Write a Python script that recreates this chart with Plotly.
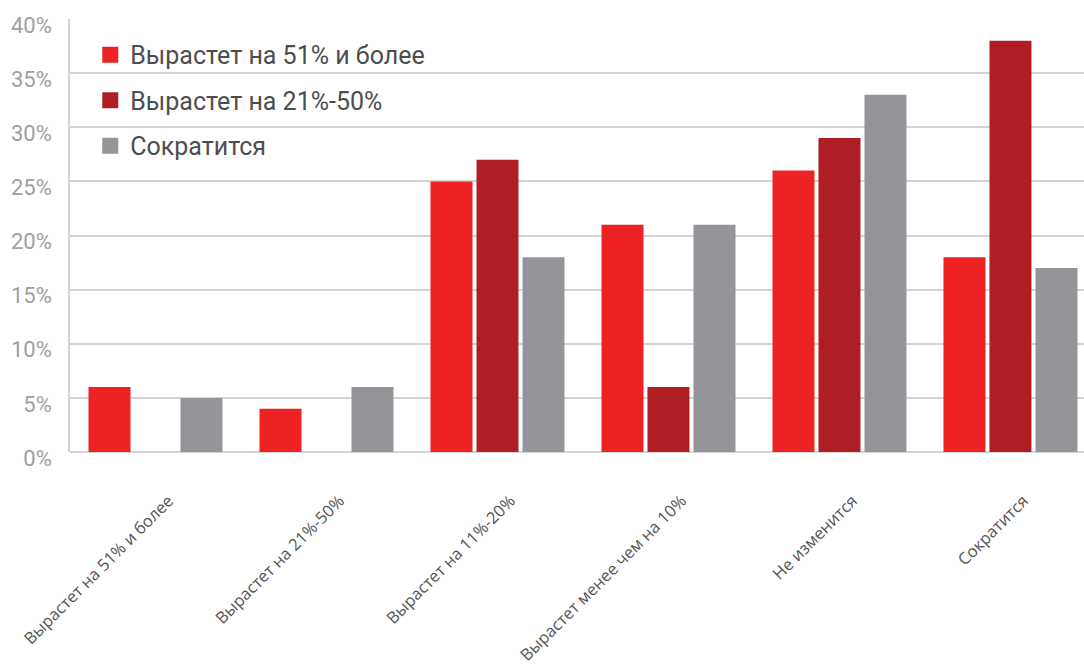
import plotly.graph_objects as go

categories = ["Вырастет на 51% и более", "Вырастет на 21%-50%", "Вырастет на 11%-20%",
              "Вырастет менее чем на 10%", "Не изменится", "Сократится"]
series_names = ["Вырастет на 51% и более", "Вырастет на 21%-50%", "Сократится"]
s_red = [6, 4, 25, 21, 26, 18]
s_dark = [0, 0, 27, 6, 29, 38]
s_gray = [5, 6, 18, 21, 33, 17]
colors = ["#ED2224", "#AF1E23", "#939598"]
y_ticks = [0, 5, 10, 15, 20, 25, 30, 35, 40]

fig = go.Figure()
for name, vals, col in zip(series_names, [s_red, s_dark, s_gray], colors):
    fig.add_trace(go.Bar(x=categories, y=vals, name=name, marker_color=col,
                         marker_line_width=0, showlegend=False))
for i, (name, col) in enumerate(zip(series_names, colors)):
    fig.add_trace(go.Scatter(x=[None], y=[None], mode="markers", name=name,
                             marker=dict(symbol="square", size=16, color=col),
                             legendgroup=f"g{i}", showlegend=True))

fig.update_layout(
    width=1084, height=670,
    margin=dict(l=70, r=0, t=19, b=218),
    plot_bgcolor="white", paper_bgcolor="white",
    barmode="group", bargap=0.193, bargroupgap=0.087,
    font=dict(family="Roboto", color="#555555"),
    legend=dict(x=0.02, y=0.97, xanchor="left", yanchor="top",
                font=dict(size=25, color="#4d4d4d", family="Roboto"),
                tracegroupgap=10, bgcolor="rgba(0,0,0,0)", itemwidth=30),
    xaxis=dict(range=[-0.5, 5.43], tickangle=-45, showgrid=False, automargin=False,
               tickfont=dict(size=16.5, color="#555555", family="Open Sans"),
               showline=False, ticks="", ticklabelstandoff=35, ticklabelshift=13),
    yaxis=dict(range=[0, 40], tickvals=y_ticks, ticktext=[f"{v}%" for v in y_ticks],
               automargin=False,
               showgrid=True, gridcolor="#d4d4d4", gridwidth=1.5,
               zeroline=True, zerolinecolor="#d4d4d4", zerolinewidth=1.5,
               showline=True, linecolor="#d4d4d4", linewidth=1.5,
               tickfont=dict(size=22, color="#a0a0a0", family="Roboto"),
               ticklabelstandoff=12, ticklabelshift=6),
)
fig.write_html("out.html")
